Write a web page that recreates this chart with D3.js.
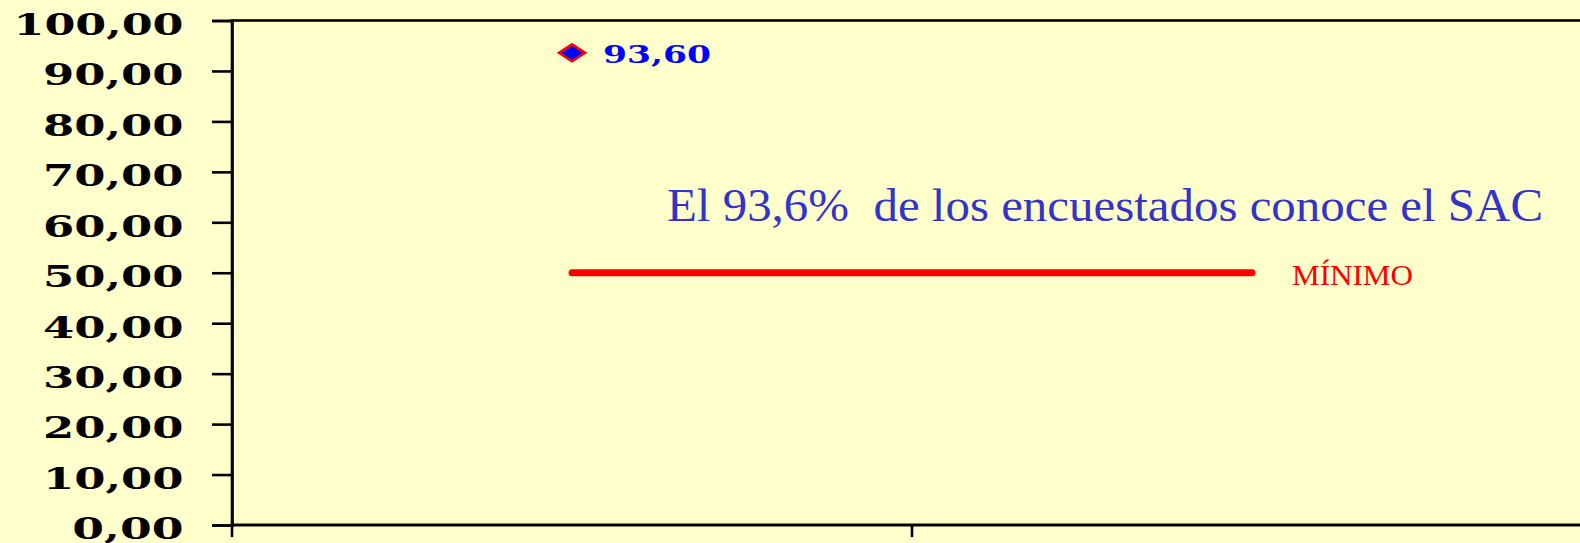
<!DOCTYPE html>
<html>
<head>
<meta charset="utf-8">
<script src="https://cdn.jsdelivr.net/npm/d3@7"></script>
<style>
  html, body { margin: 0; padding: 0; background: #FFFFCC; }
  svg { display: block; }
</style>
</head>
<body>
<svg id="chart" width="1580" height="543"></svg>
<script>
// ---- data ----
const categories = ["Conoce el SAC", "Mínimo"];
const knowValues = [93.6];
const minimumValues = [50, 50];
const yTicks = [0, 10, 20, 30, 40, 50, 60, 70, 80, 90, 100];
const annotationText = "El 93,6%  de los encuestados conoce el SAC";
const minimumLabel = "MÍNIMO";

// ---- layout ----
const W = 1580, H = 543;
const plot = { left: 232, right: 1592, top: 20.5, bottom: 525 };

const svg = d3.select("#chart");
svg.append("rect").attr("width", W).attr("height", H).attr("fill", "#FFFFCC");

const x = d3.scaleBand().domain(categories).range([plot.left, plot.right]).padding(0);
const y = d3.scaleLinear().domain([0, 100]).range([plot.bottom, plot.top]);

const fmt = v => d3.format(".2f")(v).replace(".", ",");

// plot border (top / right)
svg.append("rect")
  .attr("x", plot.left).attr("y", plot.top)
  .attr("width", plot.right - plot.left).attr("height", plot.bottom - plot.top)
  .attr("fill", "none").attr("stroke", "#000").attr("stroke-width", 2.6);

// y axis
const yAxis = d3.axisLeft(y).tickValues(yTicks).tickSize(20).tickPadding(28.5).tickFormat(fmt);
const gy = svg.append("g").attr("transform", `translate(${plot.left},0)`).call(yAxis);
gy.select(".domain").attr("stroke", "#000").attr("stroke-width", 2.6);
gy.selectAll(".tick line").attr("stroke", "#000").attr("stroke-width", 2.6);
gy.selectAll(".tick text")
  .attr("fill", "#000")
  .attr("font-family", "'DejaVu Serif', serif")
  .attr("font-weight", "bold")
  .attr("font-size", 30.5)
  .attr("dy", 13.8)
  .attr("textLength", d => {
    const s = fmt(d);
    let w = 0;
    for (const c of s) w += (c === "," ? 23 : 29.4);
    return w;
  })
  .attr("lengthAdjust", "spacingAndGlyphs");

// x axis (ticks between categories)
const gx = svg.append("g").attr("transform", `translate(0,${plot.bottom})`);
gx.append("line")
  .attr("x1", plot.left).attr("x2", plot.right)
  .attr("y1", 0).attr("y2", 0)
  .attr("stroke", "#000").attr("stroke-width", 2.6);
gx.selectAll("line.tick")
  .data(categories)
  .join("line")
  .attr("class", "tick")
  .attr("x1", d => x(d)).attr("x2", d => x(d))
  .attr("y1", 0).attr("y2", 12)
  .attr("stroke", "#000").attr("stroke-width", 2.6);

// minimum line
const cx = d => x(d) + x.bandwidth() / 2;
const line = d3.line().x((d, i) => cx(categories[i])).y(d => y(d));
svg.append("path")
  .datum(minimumValues)
  .attr("d", line)
  .attr("fill", "none")
  .attr("stroke", "#FF0000")
  .attr("stroke-width", 7)
  .attr("stroke-linecap", "round");

svg.append("text")
  .attr("x", cx(categories[1]) + 40)
  .attr("y", y(minimumValues[1]) + 12.7)
  .attr("fill", "#FF0000")
  .attr("font-family", "'Liberation Serif', 'Times New Roman', serif")
  .attr("font-size", 30)
  .attr("textLength", 121)
  .attr("lengthAdjust", "spacingAndGlyphs")
  .text(minimumLabel);

// point marker
const pts = knowValues.map((v, i) => ({ c: categories[i], v }));
svg.selectAll("path.marker")
  .data(pts)
  .join("path")
  .attr("class", "marker")
  .attr("transform", d => `translate(${cx(d.c)},${y(d.v)})`)
  .attr("d", "M-13,0 L0,-8.5 L13,0 L0,8.5 Z")
  .attr("fill", "#0000FF")
  .attr("stroke", "#FF0000")
  .attr("stroke-width", 2.6)
  .attr("stroke-linejoin", "miter");

svg.selectAll("text.dlabel")
  .data(pts)
  .join("text")
  .attr("class", "dlabel")
  .attr("x", d => cx(d.c) + 31)
  .attr("y", d => y(d.v) + 10.4)
  .attr("fill", "#0000FF")
  .attr("font-family", "'DejaVu Serif', serif")
  .attr("font-weight", "bold")
  .attr("font-size", 24.5)
  .attr("textLength", 108)
  .attr("lengthAdjust", "spacingAndGlyphs")
  .text(d => fmt(d.v));

// annotation
svg.append("text")
  .attr("x", 667)
  .attr("y", 220.7)
  .attr("fill", "#3333CC")
  .attr("font-family", "'Liberation Serif', 'Times New Roman', serif")
  .attr("font-size", 46)
  .attr("textLength", 876)
  .attr("lengthAdjust", "spacingAndGlyphs")
  .style("white-space", "pre")
  .text(annotationText);
</script>
</body>
</html>
